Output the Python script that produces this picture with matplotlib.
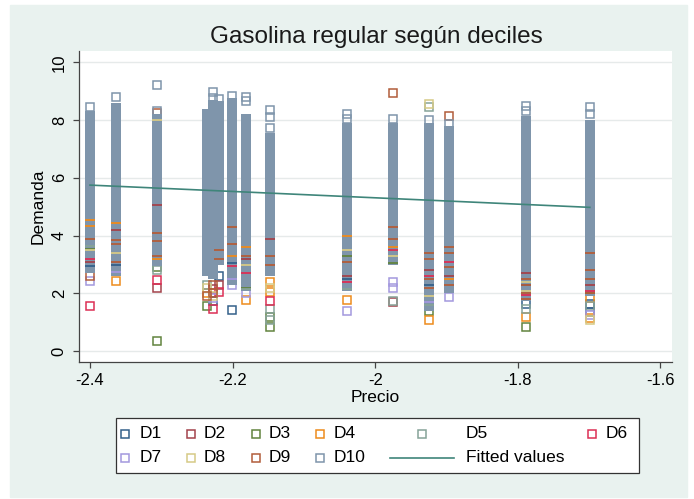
import numpy as np
import matplotlib
matplotlib.use("Agg")
import matplotlib.pyplot as plt
from matplotlib.lines import Line2D
from matplotlib.patches import Rectangle

plt.rcParams['font.family'] = ['Liberation Sans', 'DejaVu Sans']
plt.rcParams['axes.unicode_minus'] = False

# price columns (log price)
prices = [-2.400, -2.364, -2.306, -2.236, -2.228, -2.219, -2.201, -2.181,
          -2.148, -2.039, -1.975, -1.924, -1.896, -1.788, -1.699]
c1, c2, c3, cA, cB, cC, cD, cE, cF, c10, c11, c12, c13, c14, c15 = prices

# dense part of D10 at each price (low / high of the packed markers)
d10_lo = [2.7, 2.6, 2.95, 2.6, 2.5, 3.0, 2.3, 2.1, 2.6, 2.1, 3.0, 1.4, 2.0, 1.75, 1.9]
d10_hi = [8.3, 8.6, 8.2, 8.37, 8.7, 8.65, 8.75, 8.2, 7.55, 7.9, 7.9, 7.9, 7.8, 8.15, 8.0]

# loose D10 points outside the packed part
d10 = [(c1, 8.45), (c2, 8.8), (c2, 8.4), (c3, 9.2), (c3, 8.3), (cB, 8.98), (cB, 8.75),
       (cC, 8.72), (cD, 8.85), (cD, 8.6), (cE, 8.8), (cE, 8.65), (cF, 8.35), (cF, 8.1),
       (cF, 7.72), (c10, 8.2), (c10, 8.05), (c11, 8.02), (c12, 8.0), (c13, 7.85),
       (c14, 8.5), (c14, 8.3), (c15, 8.45), (c15, 8.2)]

d1 = [(c1, 2.95), (c2, 3.0), (cB, 1.75), (cD, 1.42), (cD, 3.05), (cC, 2.6), (c10, 2.5),
      (c12, 2.3), (c14, 1.65), (c14, 2.3), (c15, 1.65), (c15, 1.35)]
d2 = [(c1, 3.1), (c2, 4.2), (c3, 2.2), (c3, 5.05), (cB, 2.15), (cC, 2.3), (cE, 3.2),
      (cF, 3.9), (c10, 2.6), (c11, 1.7), (c12, 2.8), (c13, 2.6), (c14, 2.7), (c15, 2.3)]
d3 = [(c1, 3.55), (c3, 0.37), (c3, 2.9), (cA, 1.55), (cE, 2.2), (cF, 0.85), (cF, 1.2),
      (c10, 3.3), (c11, 3.05), (c12, 1.4), (c14, 0.85), (c15, 2.0)]
d4 = [(c1, 4.35), (c1, 4.55), (c2, 2.43), (c2, 4.45), (c3, 3.2), (cA, 2.0), (cD, 3.3),
      (cE, 1.78), (cE, 3.6), (cF, 2.05), (cF, 2.4), (c10, 1.78), (c10, 4.0), (c11, 3.6),
      (c12, 1.1), (c13, 2.5), (c14, 1.2), (c15, 1.85), (c15, 1.15)]
d5 = [(c1, 3.65), (c3, 2.8), (cA, 2.3), (cE, 2.15), (cF, 1.1), (cF, 1.45), (c10, 2.17),
      (c11, 1.75), (c12, 1.6), (c12, 8.45), (c14, 1.45), (c15, 1.55)]
d6 = [(c1, 1.55), (c1, 3.2), (c3, 2.47), (cB, 1.45), (cC, 2.05), (cD, 2.95), (cE, 2.7),
      (cF, 1.75), (c10, 2.4), (c11, 3.5), (c12, 2.6), (c13, 3.1), (c14, 1.95), (c15, 2.1)]
d7 = [(c1, 2.43), (c2, 2.75), (cB, 1.85), (cD, 2.3), (cD, 2.5), (cE, 2.0), (c10, 1.4),
      (c11, 2.2), (c11, 2.4), (c12, 1.7), (c13, 1.89), (c15, 1.25)]
d8 = [(c1, 3.5), (c2, 3.4), (c3, 8.0), (cA, 2.2), (cB, 1.9), (cE, 3.0), (cF, 2.2),
      (c10, 3.5), (c11, 3.3), (c12, 8.55), (c12, 1.9), (c14, 2.1), (c14, 2.4), (c15, 1.1)]
d9 = [(c1, 2.6), (c1, 3.9), (c2, 3.1), (c2, 3.7), (c2, 3.85), (c3, 3.3), (c3, 3.8),
      (c3, 4.1), (c3, 8.25), (cA, 1.9), (cB, 2.0), (cB, 2.3), (cC, 3.2), (cC, 3.5),
      (cD, 3.7), (cD, 4.3), (cE, 3.3), (cF, 3.0), (cF, 3.3), (c10, 3.1), (c11, 8.95),
      (c11, 3.9), (c11, 4.3), (c12, 2.2), (c12, 2.5), (c12, 3.2), (c12, 3.4), (c13, 8.14),
      (c13, 2.3), (c13, 2.9), (c13, 3.4), (c13, 3.6), (c14, 1.8), (c14, 2.0), (c14, 2.3),
      (c14, 2.5), (c15, 2.0), (c15, 2.5), (c15, 2.8), (c15, 3.4)]

fit_x = [-2.4, -1.699]
fit_y = [5.75, 4.98]

labels = ["D1", "D2", "D3", "D4", "D5", "D6", "D7", "D8", "D9", "D10"]
colors = ["#34608a", "#a3434b", "#62843f", "#ee8b1c", "#86a398",
          "#dc2f55", "#a398de", "#d6ca86", "#b25d3a", "#7f95ab"]
fit_color = "#3f857a"
bg = "#e9f2ef"

fig = plt.figure(figsize=(6.94, 4.99), dpi=100)
fig.patch.set_facecolor("white")
fig.patches.append(Rectangle((10/694, 1-497/499), 677/694, 492/499,
                             transform=fig.transFigure, color=bg, zorder=-10))

ax = fig.add_axes([79.3/694, 1-361.7/499, 592.4/694, 311/499])
ax.set_facecolor("white")
ms = 6.2

ax.vlines(prices, d10_lo, d10_hi, colors=colors[9], lw=ms+1.0, zorder=3)

for pts, col in zip([d1, d2, d3, d4, d5, d6, d7, d8, d9, d10], colors):
    # points inside the packed D10 column only peek out as thin dashes
    inside = [p for p in pts if d10_lo[prices.index(p[0])] < p[1] < d10_hi[prices.index(p[0])]]
    outside = [p for p in pts if p not in inside]
    ax.plot([p[0] for p in outside], [p[1] for p in outside], ls="none", marker="s",
            ms=ms, mfc="none", mec=col, mew=1.1, zorder=2)
    ax.plot([p[0] for p in inside], [p[1] for p in inside], ls="none", marker="_",
            ms=ms+0.5, mec=col, mew=1.3, zorder=4)

ax.plot(fit_x, fit_y, color=fit_color, lw=1.2, zorder=5)

ax.set_xlim(-2.415, -1.5842)
ax.set_ylim(-0.36, 10.40)
ax.set_xticks([-2.4, -2.2, -2.0, -1.8, -1.6])
ax.set_xticklabels(["-2.4", "-2.2", "-2", "-1.8", "-1.6"])
ax.set_yticks([0, 2, 4, 6, 8, 10])
ax.set_yticklabels(["0", "2", "4", "6", "8", "10"], rotation=90, va="center")
ax.grid(axis="y", color="#e6eaea", lw=1.0, zorder=0)
ax.set_axisbelow(True)
for s in ["top", "right"]:
    ax.spines[s].set_visible(False)
for s in ["left", "bottom"]:
    ax.spines[s].set_color("#444444")
    ax.spines[s].set_linewidth(0.9)
ax.tick_params(direction="out", length=4, width=0.9, color="#444444",
               labelsize=12, pad=4)
ax.tick_params(axis="y", pad=5)

fig.text(376/694, 1-37/499, "Gasolina regular según deciles", fontsize=17.5,
         ha="center", va="center", color="#1a1a1a")
fig.text(375/694, 1-398/499, "Precio", fontsize=12.5, ha="center", va="center")
fig.text(38/694, 1-206/499, "Demanda", fontsize=12.5, ha="center", va="center", rotation=90)

# legend box drawn by hand (Stata layout)
fig.patches.append(Rectangle((116/694, 1-473/499), 523/694, 55/499, transform=fig.transFigure,
                             facecolor="white", edgecolor="#333333", lw=0.9, zorder=5))
row1, row2 = 1-434/499, 1-458/499
entries = [(125, 140, row1, 0), (191, 204, row1, 1), (256, 269, row1, 2), (320, 334, row1, 3),
           (422, 466, row1, 4), (592, 606, row1, 5),
           (125, 140, row2, 6), (191, 204, row2, 7), (256, 269, row2, 8), (320, 334, row2, 9)]
for mx, tx, yy, i in entries:
    fig.add_artist(Line2D([mx/694], [yy], marker="s", ms=5.2, mfc="white", mec=colors[i],
                          mew=1.1, ls="none", transform=fig.transFigure, zorder=6))
    fig.text(tx/694, yy, labels[i], fontsize=12.5, ha="left", va="center", zorder=6)
fig.add_artist(Line2D([390/694, 454/694], [row2, row2], color=fit_color, lw=1.2,
                      transform=fig.transFigure, zorder=6))
fig.text(466/694, row2, "Fitted values", fontsize=12.5, ha="left", va="center", zorder=6)

fig.savefig("out.png", dpi=100)
